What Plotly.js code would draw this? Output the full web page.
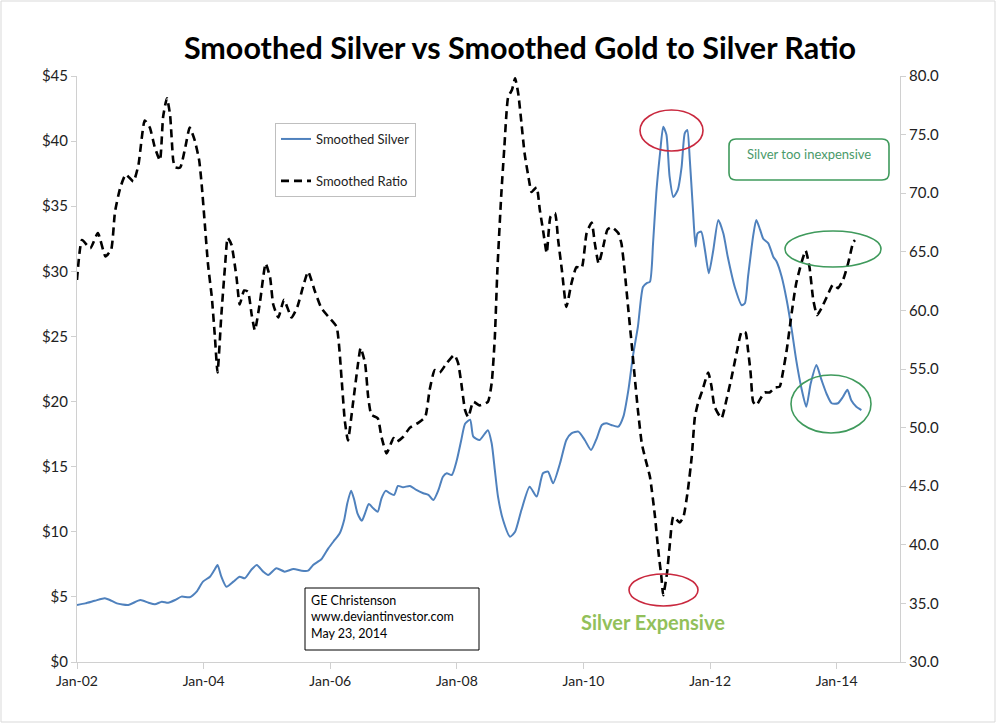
<!DOCTYPE html>
<html>
<head>
<meta charset="utf-8">
<script src="https://cdn.plot.ly/plotly-3.0.1.min.js"></script>
<style>html,body{margin:0;padding:0;background:#fff;}#chart{width:1000px;height:724px;}</style>
</head>
<body>
<div id="chart"></div>
<script>
// Decimal-year positions and values
const silverYears = [2002.00,2002.13,2002.28,2002.44,2002.52,2002.63,2002.81,2003.00,2003.13,2003.23,2003.34,2003.44,2003.55,2003.65,2003.78,2003.89,2003.99,2004.10,2004.17,2004.22,2004.28,2004.36,2004.47,2004.57,2004.65,2004.76,2004.84,2004.94,2005.02,2005.15,2005.28,2005.42,2005.55,2005.65,2005.73,2005.86,2005.97,2006.07,2006.15,2006.22,2006.27,2006.33,2006.38,2006.43,2006.50,2006.55,2006.61,2006.68,2006.75,2006.81,2006.88,2006.94,2007.01,2007.07,2007.15,2007.26,2007.36,2007.47,2007.55,2007.63,2007.71,2007.78,2007.84,2007.92,2008.00,2008.07,2008.13,2008.21,2008.26,2008.36,2008.49,2008.55,2008.60,2008.65,2008.73,2008.84,2008.92,2009.02,2009.15,2009.26,2009.36,2009.44,2009.52,2009.63,2009.73,2009.81,2009.92,2010.02,2010.12,2010.21,2010.29,2010.36,2010.44,2010.55,2010.63,2010.71,2010.78,2010.86,2010.94,2011.00,2011.05,2011.10,2011.15,2011.21,2011.26,2011.31,2011.36,2011.42,2011.49,2011.55,2011.60,2011.64,2011.68,2011.73,2011.77,2011.80,2011.86,2011.92,2011.98,2012.05,2012.13,2012.21,2012.28,2012.39,2012.50,2012.55,2012.60,2012.68,2012.73,2012.79,2012.84,2012.92,2013.00,2013.05,2013.13,2013.21,2013.29,2013.36,2013.44,2013.52,2013.59,2013.68,2013.76,2013.84,2013.92,2014.02,2014.10,2014.17,2014.23,2014.31,2014.39];
const silverPrice = [4.38,4.5,4.7,4.9,4.76,4.5,4.38,4.76,4.55,4.43,4.63,4.55,4.76,5.02,4.97,5.4,6.17,6.55,7.07,7.45,6.55,5.78,6.17,6.55,6.43,7.12,7.45,6.94,6.68,7.2,6.94,7.14,7.01,7.01,7.45,7.89,8.73,9.37,9.88,10.9,12.19,13.16,12.44,11.42,10.85,11.42,12.13,11.8,11.54,12.57,13.16,12.96,12.83,13.52,13.42,13.52,13.21,12.96,12.83,12.44,13.21,14.23,14.49,14.36,15.51,17.05,18.3,18.6,17.3,17.05,17.8,16.8,14.75,12.7,10.9,9.62,10.0,11.67,13.46,12.7,14.49,14.62,13.72,15.26,17.05,17.56,17.69,17.05,16.28,17.18,18.2,18.33,18.2,18.07,18.84,20.9,23.45,25.75,28.8,29.1,29.2,32.2,36.0,39.07,41.1,40.5,37.3,35.7,36.25,38.0,40.6,40.86,38.56,34.7,31.9,32.9,33.05,31.6,29.85,31.6,33.95,32.9,31.1,28.8,27.4,27.55,29.6,32.7,33.95,33.2,32.5,32.15,31.1,30.75,29.6,27.8,25.5,23.2,21.1,19.6,21.4,22.8,21.66,20.6,19.87,19.87,20.37,20.9,20.1,19.6,19.35];

const ratioYears = [2002.00,2002.08,2002.21,2002.33,2002.45,2002.54,2002.60,2002.68,2002.77,2002.89,2002.97,2003.07,2003.15,2003.23,2003.31,2003.36,2003.42,2003.47,2003.52,2003.55,2003.63,2003.71,2003.78,2003.86,2003.93,2003.97,2004.02,2004.07,2004.13,2004.18,2004.22,2004.28,2004.34,2004.38,2004.44,2004.52,2004.57,2004.64,2004.70,2004.76,2004.81,2004.89,2004.98,2005.05,2005.10,2005.18,2005.27,2005.39,2005.48,2005.57,2005.65,2005.76,2005.86,2005.98,2006.10,2006.18,2006.23,2006.28,2006.36,2006.44,2006.48,2006.55,2006.60,2006.65,2006.75,2006.81,2006.89,2007.00,2007.05,2007.15,2007.26,2007.39,2007.50,2007.57,2007.65,2007.73,2007.84,2007.96,2008.02,2008.07,2008.13,2008.18,2008.26,2008.36,2008.49,2008.55,2008.60,2008.64,2008.70,2008.75,2008.81,2008.87,2008.92,2008.97,2009.02,2009.07,2009.14,2009.18,2009.26,2009.31,2009.36,2009.42,2009.48,2009.55,2009.60,2009.66,2009.73,2009.81,2009.89,2009.97,2010.05,2010.13,2010.18,2010.24,2010.31,2010.38,2010.45,2010.55,2010.60,2010.65,2010.71,2010.76,2010.81,2010.86,2010.92,2010.97,2011.05,2011.13,2011.18,2011.23,2011.26,2011.32,2011.36,2011.42,2011.52,2011.58,2011.65,2011.71,2011.76,2011.81,2011.88,2011.97,2012.02,2012.07,2012.18,2012.26,2012.34,2012.42,2012.50,2012.56,2012.60,2012.64,2012.68,2012.73,2012.81,2012.86,2012.94,2013.02,2013.10,2013.15,2013.21,2013.26,2013.31,2013.36,2013.44,2013.51,2013.57,2013.63,2013.69,2013.76,2013.84,2013.94,2014.02,2014.10,2014.18,2014.26,2014.29];
const ratioValue = [62.6,66.0,65.3,66.6,64.6,65.2,68.4,70.4,71.6,71.0,72.4,76.2,75.6,73.9,72.8,76.5,78.1,76.7,72.8,72.2,72.2,73.9,75.6,74.5,72.8,70.7,67.3,63.9,61.1,57.6,54.7,59.6,63.9,66.2,65.6,62.8,60.5,61.7,61.6,59.6,58.3,60.7,64.0,62.8,60.5,59.4,60.9,59.4,60.3,62.0,63.3,61.6,60.2,59.4,58.6,54.1,50.6,48.9,52.1,55.5,56.8,55.5,52.6,51.1,50.8,49.2,47.8,49.1,48.8,49.2,50.0,50.4,50.9,53.2,54.9,54.7,55.5,56.2,55.5,53.8,51.5,50.9,52.2,51.9,52.2,53.8,57.7,63.4,69.7,73.9,78.2,78.8,79.8,78.5,76.0,73.4,71.1,70.1,70.5,68.6,66.9,64.9,68.0,68.3,66.0,63.4,60.3,62.3,63.7,63.6,66.6,67.5,65.7,64.0,65.4,66.9,67.1,66.6,65.7,63.4,60.0,57.2,54.3,51.5,48.7,47.5,45.8,42.4,39.6,37.3,35.7,37.6,39.8,42.4,41.9,42.4,44.7,47.5,50.9,52.1,53.2,54.7,53.6,51.8,50.8,52.4,54.3,56.4,58.2,58.1,56.6,54.7,52.2,51.9,52.6,53.0,53.0,53.4,53.5,54.7,56.6,58.6,60.6,62.3,64.0,65.1,63.7,60.9,59.6,60.2,61.1,62.2,61.9,62.6,64.0,65.8,66.0];

const xTickVals = [2002,2004,2006,2008,2010,2012,2014];
const xTickText = ['Jan-02','Jan-04','Jan-06','Jan-08','Jan-10','Jan-12','Jan-14'];

const seriesNames = ['Smoothed Silver','Smoothed Ratio'];
const titleText = 'Smoothed Silver vs Smoothed Gold to Silver Ratio';
const creditLines = ['GE Christenson','www.deviantinvestor.com','May 23, 2014'];
const noteExpensive = 'Silver Expensive';
const noteInexpensive = 'Silver too inexpensive';

const FONT = 'Lato, "Open Sans", "DejaVu Sans", sans-serif';
const axisGray = '#d0d0d0';

const traces = [
  {
    x: silverYears, y: silverPrice, name: seriesNames[0], type: 'scatter', mode: 'lines',
    line: {color: '#4f81bd', width: 2, shape: 'spline', smoothing: 0.6},
    yaxis: 'y', legendgroup: 'a', hoverinfo: 'skip'
  },
  {
    x: ratioYears, y: ratioValue, name: seriesNames[1], type: 'scatter', mode: 'lines',
    line: {color: '#000000', width: 2.6, dash: '8px,5px', shape: 'spline', smoothing: 0.5},
    yaxis: 'y2', legendgroup: 'b', hoverinfo: 'skip'
  }
];

// paper coordinate helpers (plot area 77..900 x 76..662 px)
function px(v){ return (v - 77) / 823; }
function py(v){ return (662 - v) / 586; }

function roundRect(x0p, y0p, x1p, y1p, r){
  const X0 = px(x0p), X1 = px(x1p), Y0 = py(y0p), Y1 = py(y1p);
  const rx = r / 823, ry = r / 586;
  return 'M ' + (X0+rx) + ',' + Y0 + ' L ' + (X1-rx) + ',' + Y0 +
    ' Q ' + X1 + ',' + Y0 + ' ' + X1 + ',' + (Y0-ry) +
    ' L ' + X1 + ',' + (Y1+ry) + ' Q ' + X1 + ',' + Y1 + ' ' + (X1-rx) + ',' + Y1 +
    ' L ' + (X0+rx) + ',' + Y1 + ' Q ' + X0 + ',' + Y1 + ' ' + X0 + ',' + (Y1+ry) +
    ' L ' + X0 + ',' + (Y0-ry) + ' Q ' + X0 + ',' + Y0 + ' ' + (X0+rx) + ',' + Y0 + ' Z';
}

const redC = '#c9283e';
const greenC = '#3f9a5c';

const layout = {
  width: 1000, height: 724,
  paper_bgcolor: '#ffffff', plot_bgcolor: '#ffffff',
  margin: {l: 77, r: 100, t: 76, b: 62},
  font: {family: FONT, color: '#222222', size: 14},
  showlegend: true,
  title: {
    text: '<b>' + titleText + '</b>',
    font: {family: FONT, size: 30.5, color: '#000000'},
    x: px(520), xref: 'paper', xanchor: 'center',
    y: 1 - 48/724, yref: 'container', yanchor: 'middle'
  },
  xaxis: {
    range: [2002, 2015], tickmode: 'array', tickvals: xTickVals, ticktext: xTickText,
    showgrid: false, zeroline: false, showline: true, linecolor: axisGray, linewidth: 1,
    ticks: 'outside', ticklen: 6, tickcolor: axisGray,
    tickfont: {family: FONT, size: 14, color: '#222'}, fixedrange: true
  },
  yaxis: {
    range: [0, 45], dtick: 5, tick0: 0, tickprefix: '$',
    showgrid: false, zeroline: false, showline: true, linecolor: axisGray, linewidth: 1,
    ticks: 'outside', ticklen: 5, tickcolor: axisGray,
    tickfont: {family: FONT, size: 15, color: '#222'}, fixedrange: true
  },
  yaxis2: {
    range: [30, 80], dtick: 5, tick0: 30, tickformat: '.1f', overlaying: 'y', side: 'right',
    showgrid: false, zeroline: false, showline: true, linecolor: axisGray, linewidth: 1,
    ticks: 'outside', ticklen: 5, tickcolor: axisGray,
    tickfont: {family: FONT, size: 15, color: '#222'}, fixedrange: true
  },
  legend: {
    x: px(275), y: py(123), xanchor: 'left', yanchor: 'top',
    bordercolor: '#bfbfbf', borderwidth: 1, bgcolor: '#ffffff',
    font: {family: FONT, size: 13, color: '#222'},
    traceorder: 'grouped', tracegroupgap: 22, itemwidth: 30
  },
  shapes: [
    {type: 'rect', xref: 'paper', yref: 'paper', x0: px(1), x1: px(995), y0: py(722), y1: py(1),
     line: {color: '#d9d9d9', width: 1}, fillcolor: 'rgba(0,0,0,0)', layer: 'below'},
    {type: 'circle', xref: 'paper', yref: 'paper', x0: px(640), x1: px(703), y0: py(151), y1: py(110),
     line: {color: redC, width: 1.6}},
    {type: 'circle', xref: 'paper', yref: 'paper', x0: px(629), x1: px(698), y0: py(606), y1: py(574),
     line: {color: redC, width: 1.6}},
    {type: 'circle', xref: 'paper', yref: 'paper', x0: px(785), x1: px(881), y0: py(267), y1: py(231),
     line: {color: greenC, width: 1.6}},
    {type: 'circle', xref: 'paper', yref: 'paper', x0: px(791), x1: px(871), y0: py(433), y1: py(375),
     line: {color: greenC, width: 1.6}},
    {type: 'path', xref: 'paper', yref: 'paper', path: roundRect(729, 139, 889, 180, 7),
     line: {color: greenC, width: 1.6}, fillcolor: '#ffffff'},
    {type: 'rect', xref: 'paper', yref: 'paper', x0: px(305), x1: px(479), y0: py(650), y1: py(588),
     line: {color: '#000000', width: 1}, fillcolor: '#ffffff'}
  ],
  annotations: [
    {xref: 'paper', yref: 'paper', x: px(309), y: py(591), xanchor: 'left', yanchor: 'top',
     text: creditLines.join('<br>'), align: 'left', showarrow: false,
     font: {family: FONT, size: 12.5, color: '#000'}},
    {xref: 'paper', yref: 'paper', x: px(653), y: py(622), xanchor: 'center', yanchor: 'middle',
     text: '<b>' + noteExpensive + '</b>', showarrow: false,
     font: {family: FONT, size: 20, color: '#92c05a'}},
    {xref: 'paper', yref: 'paper', x: px(809), y: py(154), xanchor: 'center', yanchor: 'middle',
     text: noteInexpensive, showarrow: false,
     font: {family: FONT, size: 13, color: '#4a9a6a'}}
  ]
};

Plotly.newPlot('chart', traces, layout, {displayModeBar: false, staticPlot: true});
</script>
</body>
</html>
